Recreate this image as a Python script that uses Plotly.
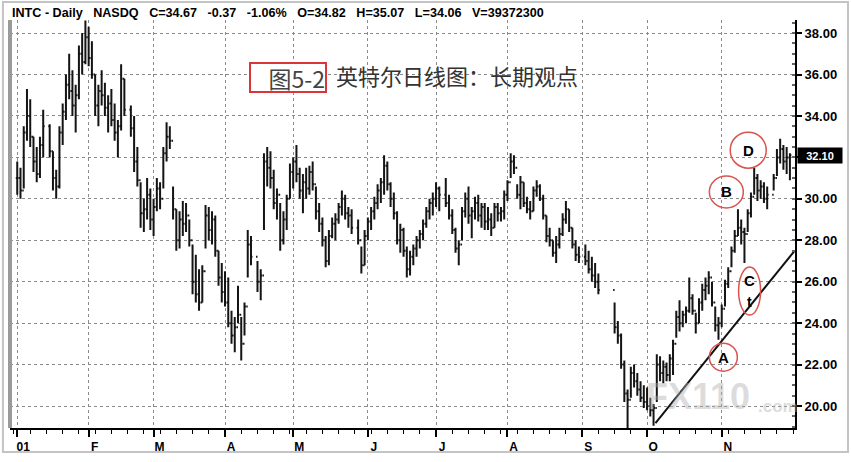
import pandas as pd
import plotly.graph_objects as go

# ---------------- data ----------------
TITLE_FIELDS = ["INTC - Daily", "NASDQ", "C=34.67", "-0.37", "-1.06%",
                "O=34.82", "H=35.07", "L=34.06", "V=39372300"]
CAPTION_TAG = "图5-2"
CAPTION_TEXT = "英特尔日线图：长期观点"

MONTH_LABELS = ["01", "F", "M", "A", "M", "J", "J", "A", "S", "O", "N"]
MONTH_TICKS = ["2001-01-02", "2001-02-01", "2001-03-01", "2001-04-02", "2001-05-01",
               "2001-06-01", "2001-07-02", "2001-08-01", "2001-09-03", "2001-10-01",
               "2001-11-01"]
PRICE_TICKS = [20, 22, 24, 26, 28, 30, 32, 34, 36, 38]

HOLIDAYS = ["2001-01-15", "2001-02-19", "2001-04-13", "2001-05-28", "2001-07-04",
            "2001-09-03", "2001-09-11", "2001-09-12", "2001-09-13", "2001-09-14",
            "2001-11-22"]

HIGH = [
    # Jan
    31.8, 31.5, 33.5, 35.3, 34.8, 33.0, 32.5, 33.0, 34.3, 33.6,
    32.3, 31.4, 33.5, 34.6, 36.0, 37.0, 36.2, 35.5, 37.4, 38.0, 38.6,
    # Feb
    38.3, 37.6, 36.0, 35.5, 36.2, 35.6, 35.0, 35.3, 34.6, 33.8, 36.5, 35.8, 34.5,
    34.0, 32.5, 30.8, 30.0, 31.0, 30.5,
    # Mar
    30.0, 31.0, 30.8, 32.5, 33.7, 33.5, 30.6, 29.5, 29.4, 29.9, 29.8, 29.0, 27.8,
    27.3, 26.6, 26.8, 29.7, 29.6, 29.4, 29.2, 27.5, 26.9,
    # Apr
    26.5, 26.2, 24.6, 24.3, 25.8, 24.3, 25.0, 28.5, 28.2,
    27.0, 26.6, 32.2, 32.5, 32.3, 31.4, 30.5, 29.8, 29.4, 30.2, 31.7,
    # May
    32.0, 32.6, 31.5, 31.2, 31.5, 31.6, 31.8, 30.6, 29.8, 29.1, 28.2, 28.5, 29.1,
    29.3, 29.8, 30.4, 30.2, 29.6, 29.5, 29.0, 27.7, 28.5,
    # Jun
    29.1, 29.6, 30.1, 30.7, 31.0, 32.1, 31.8, 30.8, 30.3, 29.4, 28.8, 28.6, 27.7,
    27.5, 27.8, 28.2, 28.5, 29.0, 29.6, 30.0, 30.3,
    # Jul
    30.8, 30.6, 31.0, 30.2, 29.5, 28.6, 28.0, 29.6, 30.3, 30.6, 29.6, 30.1, 30.2,
    29.8, 29.8, 29.6, 29.3, 29.8, 29.8, 29.6, 30.4,
    # Aug
    30.9, 32.2, 32.1, 30.7, 31.1, 30.8, 30.1, 29.9, 30.6, 30.9, 30.7, 30.2, 29.2,
    28.6, 28.0, 28.2, 28.6, 29.3, 29.9, 29.5, 28.6, 28.0, 27.7,
    # Sep
    27.8, 27.5, 27.2, 26.9, 26.4, 25.0, 24.1, 23.5, 22.2, 20.8, 21.9, 22.0, 21.6,
    21.2, 21.0,
    # Oct
    20.9, 20.4, 20.1, 22.5, 22.4, 22.2, 22.1, 22.5, 23.2, 24.6, 25.1, 24.6, 24.8,
    26.2, 25.4, 24.5, 25.2, 25.9, 26.2, 26.5, 26.0, 24.8, 24.3,
    # Nov
    24.9, 26.1, 26.7, 27.7, 28.5, 29.5, 29.0, 28.6, 29.5, 30.3, 31.5, 31.2, 30.9,
    30.8, 30.6, 31.2, 32.4, 32.9, 32.6, 32.5, 32.2,
]

LOW = [
    # Jan
    30.2, 30.0, 30.5, 32.8, 32.5, 31.3, 30.8, 31.0, 32.0, 32.0,
    30.4, 30.0, 30.5, 32.6, 33.8, 34.8, 34.0, 33.2, 34.8, 36.0, 36.5,
    # Feb
    36.4, 35.8, 34.0, 33.5, 34.5, 34.0, 33.2, 33.5, 32.8, 32.0, 33.3, 34.0, 33.0,
    31.3, 30.6, 28.6, 28.4, 29.0, 28.5,
    # Mar
    28.2, 29.4, 29.5, 30.5, 31.8, 32.4, 29.0, 27.5, 27.6, 28.2, 28.4, 27.7, 25.4,
    25.0, 24.6, 25.0, 27.6, 28.0, 27.8, 27.2, 25.8, 25.0,
    # Apr
    24.8, 23.8, 23.0, 22.6, 24.0, 22.2, 23.4, 26.2, 26.8,
    25.5, 25.1, 28.5, 30.6, 30.5, 29.5, 29.0, 27.5, 27.8, 28.5, 30.0,
    # May
    30.5, 30.8, 30.0, 29.3, 30.0, 30.2, 30.4, 29.0, 28.4, 27.7, 26.7, 26.8, 28.1,
    28.0, 28.8, 29.2, 29.0, 28.6, 28.3, 27.8, 26.4, 26.8,
    # Jun
    28.0, 28.5, 29.0, 29.5, 29.8, 30.2, 30.4, 29.6, 29.0, 27.8, 27.4, 27.2, 26.2,
    26.3, 26.8, 27.2, 27.6, 28.0, 28.6, 29.0, 29.2,
    # Jul
    29.6, 29.4, 29.6, 29.0, 28.3, 27.4, 26.8, 28.0, 29.1, 28.8, 28.1, 29.0, 28.9,
    28.6, 28.5, 28.5, 28.2, 28.6, 28.9, 28.9, 29.0,
    # Aug
    29.9, 31.0, 31.2, 30.0, 29.5, 29.6, 29.3, 29.0, 29.4, 30.1, 29.9, 29.0, 27.9,
    27.7, 27.2, 26.9, 27.6, 28.2, 28.8, 28.4, 27.6, 27.0, 26.9,
    # Sep
    26.8, 26.4, 26.0, 25.7, 25.4, 23.5, 23.0, 21.8, 20.2, 18.9, 20.4, 20.9, 20.5,
    20.2, 19.9,
    # Oct
    19.8, 19.5, 19.05, 20.2, 21.2, 21.1, 21.2, 21.2, 21.5, 23.3, 23.6, 23.8, 24.0,
    24.5, 24.4, 23.5, 24.0, 24.6, 25.1, 25.4, 24.8, 23.6, 23.2,
    # Nov
    23.8, 24.8, 25.7, 26.7, 27.4, 28.2, 27.8, 26.9, 28.4, 29.1, 30.2, 29.9, 30.0,
    29.8, 29.5, 30.4, 31.1, 31.7, 31.4, 31.2, 30.9,
]

CLOSE = [
    # Jan
    31.0, 30.4, 33.2, 34.0, 33.0, 31.8, 31.2, 32.6, 33.5, 32.3,
    31.0, 30.6, 33.2, 34.2, 35.5, 35.2, 34.5, 35.0, 37.0, 36.6, 37.8,
    # Feb
    36.8, 36.0, 34.5, 35.2, 35.0, 34.4, 34.6, 33.8, 33.2, 33.5, 35.8, 34.3, 33.4,
    31.8, 30.9, 29.3, 29.5, 30.2, 29.0,
    # Mar
    29.6, 30.5, 30.0, 32.2, 33.0, 32.8, 29.5, 28.0, 29.0, 28.8, 29.2, 28.0, 26.0,
    25.4, 25.0, 26.5, 29.2, 28.5, 29.0, 27.5, 26.2, 25.5,
    # Apr
    25.0, 24.0, 23.4, 23.8, 24.4, 23.0, 24.8, 27.8, 27.2,
    26.0, 26.3, 31.8, 31.5, 31.0, 29.8, 30.2, 28.0, 29.0, 30.0, 31.3,
    # May
    31.8, 31.2, 30.4, 30.8, 30.5, 31.3, 30.7, 29.4, 28.8, 28.0, 27.0, 28.2, 28.8,
    29.0, 29.6, 30.0, 29.3, 29.2, 28.6, 28.0, 26.8, 28.2,
    # Jun
    28.9, 29.4, 29.8, 30.4, 30.8, 31.6, 30.7, 30.0, 29.3, 28.0, 28.5, 27.5, 26.6,
    27.2, 27.6, 28.0, 28.3, 28.8, 29.4, 29.8, 30.0,
    # Jul
    30.5, 30.2, 29.8, 29.2, 28.5, 27.6, 27.8, 29.4, 30.0, 29.2, 29.4, 29.8, 29.2,
    29.6, 28.9, 29.0, 28.6, 29.6, 29.3, 29.4, 30.2,
    # Aug
    30.8, 31.8, 31.5, 30.2, 30.8, 29.8, 29.5, 29.4, 30.4, 30.6, 30.0, 29.2, 28.2,
    28.0, 27.4, 27.8, 28.3, 29.0, 29.5, 28.6, 27.8, 27.3, 27.2,
    # Sep
    27.0, 26.6, 26.3, 26.0, 25.6, 23.8, 23.4, 22.0, 20.6, 20.3, 21.6, 21.2, 20.8,
    20.4, 20.2,
    # Oct
    20.0, 19.8, 19.9, 22.0, 21.6, 21.9, 21.5, 22.3, 23.0, 24.3, 24.0, 24.4, 24.6,
    25.2, 24.6, 24.0, 25.0, 25.6, 25.8, 26.2, 25.0, 23.9, 24.0,
    # Nov
    24.7, 25.9, 26.5, 27.5, 28.2, 28.6, 28.4, 28.3, 29.3, 30.1, 31.0, 30.4, 30.6,
    30.0, 30.2, 31.0, 32.0, 32.4, 31.8, 32.0, 32.1,
]

# annotated pivots (circled letters) and the up trendline
MARK_LABELS = ["A", "B", "C", "D"]
MARK_DATES = ["2001-11-01 12:00", "2001-11-02 10:00", "2001-11-13 14:00", "2001-11-13 04:00"]
MARK_PRICES = [22.36, 30.33, 25.55, 32.35]
TREND_DATES = ["2001-10-03 14:00", "2001-12-03 12:00"]
TREND_PRICES = [19.18, 27.5]

# ---------------- build ----------------
dates = [d for d in pd.bdate_range("2001-01-02", "2001-11-30")
         if d.strftime("%Y-%m-%d") not in HOLIDAYS]
n = min(len(dates), len(HIGH), len(LOW), len(CLOSE))
dates = dates[:n]
OPEN = [CLOSE[0]] + CLOSE[:n - 1]
LAST = CLOSE[n - 1]

fig = go.Figure()
fig.add_trace(go.Ohlc(
    x=dates, open=OPEN, high=HIGH[:n], low=LOW[:n], close=CLOSE[:n],
    increasing=dict(line=dict(color="#141414", width=2)),
    decreasing=dict(line=dict(color="#141414", width=2)),
    tickwidth=0.45, showlegend=False, hoverinfo="skip",
))
fig.add_trace(go.Scatter(
    x=TREND_DATES, y=TREND_PRICES, mode="lines",
    line=dict(color="#111", width=2), showlegend=False, hoverinfo="skip",
))

grid = "#8a8a8a"
# the price box covers the label of the tick it sits on
price_text = ["" if abs(v - LAST) < 0.6 else f"{v:.2f}" for v in PRICE_TICKS]

fig.update_layout(
    width=851, height=462,
    margin=dict(l=10, r=56, t=20, b=34),
    plot_bgcolor="white", paper_bgcolor="white",
    showlegend=False,
    xaxis=dict(
        type="date",
        range=["2000-12-28 18:30", "2001-12-03 13:40"],
        rangebreaks=[dict(bounds=["sat", "mon"])],
        rangeslider=dict(visible=False),
        tickmode="array", tickvals=MONTH_TICKS, ticktext=MONTH_LABELS,
        ticks="outside", ticklen=7, tickwidth=1.5, tickcolor="black",
        ticklabelshift=6,
        tickfont=dict(family="Liberation Sans", size=12, color="black", weight="bold"),
        showgrid=True, gridcolor=grid, griddash="dot", gridwidth=1,
        showline=True, linecolor="black", linewidth=2,
        minor=dict(ticks="outside", ticklen=4, tickcolor="black", tickwidth=1,
                   dtick=7 * 86400000, tick0="2001-01-01", showgrid=False),
        zeroline=False, fixedrange=True, automargin=False,
    ),
    yaxis=dict(
        side="right",
        range=[18.94, 38.63],
        tickmode="array", tickvals=PRICE_TICKS, ticktext=price_text,
        ticks="outside", ticklen=5, tickwidth=1.5, tickcolor="black",
        tickfont=dict(family="Liberation Sans", size=13, color="black", weight="bold"),
        showgrid=True, gridcolor=grid, griddash="dot", gridwidth=1,
        showline=True, linecolor="black", linewidth=2,
        minor=dict(ticks="inside", ticklen=3, tickcolor="#666", dtick=0.5, showgrid=False),
        zeroline=False, fixedrange=True, automargin=False,
    ),
)

shapes = []
# left frame bar and outer border
shapes.append(dict(type="line", xref="paper", yref="paper", x0=0, x1=0, y0=0, y1=1,
                   line=dict(color="#9a9a9a", width=4)))
shapes.append(dict(type="rect", xref="paper", yref="paper",
                   x0=-0.009, x1=1.0675, y0=-0.0588, y1=1.044,
                   line=dict(color="#c4c4c4", width=2), layer="above"))
# red ellipses around pivots
RADII = {"A": (14, 14), "B": (17, 16), "C": (11, 24), "D": (18, 18)}
for lab, d, p in zip(MARK_LABELS, MARK_DATES, MARK_PRICES):
    rx, ry = RADII[lab]
    shapes.append(dict(type="circle", xref="x", yref="y", xsizemode="pixel",
                       ysizemode="pixel", xanchor=d, yanchor=p,
                       x0=-rx, x1=rx, y0=-ry, y1=ry,
                       line=dict(color="#d9534f", width=1.5)))
fig.update_layout(shapes=shapes)

ann = []
sp = "\u00a0\u00a0\u00a0"
ann.append(dict(xref="paper", yref="paper", x=0, y=1.017, xanchor="left", yanchor="middle",
                text=sp.join(TITLE_FIELDS), showarrow=False,
                font=dict(family="Liberation Sans", size=12.6, color="black", weight="bold")))
ann.append(dict(xref="paper", yref="paper", x=0.354, y=0.859, xanchor="center", yanchor="middle",
                text=CAPTION_TAG, showarrow=False, width=74, height=27, align="right",
                bordercolor="#d8363a", borderwidth=2, borderpad=0, bgcolor="white",
                font=dict(family="Noto Sans CJK SC", size=23, color="#444")))
ann.append(dict(xref="paper", yref="paper", x=0.413, y=0.865, xanchor="left", yanchor="middle",
                text=CAPTION_TEXT, showarrow=False,
                font=dict(family="Noto Sans CJK SC", size=22, color="#333")))
for lab, d, p in zip(MARK_LABELS, MARK_DATES, MARK_PRICES):
    if lab == "C":
        ann.append(dict(x=d, y=p, xref="x", yref="y", text="C", showarrow=False, yshift=11,
                        font=dict(family="Liberation Sans", size=15, color="black", weight="bold")))
        ann.append(dict(x=d, y=p, xref="x", yref="y", text="t", showarrow=False, yshift=-11,
                        font=dict(family="Liberation Sans", size=14, color="black", weight="bold")))
    else:
        ann.append(dict(x=d, y=p, xref="x", yref="y", text=lab, showarrow=False,
                        font=dict(family="Liberation Sans", size=15, color="black", weight="bold")))
# last price box on the price axis
ann.append(dict(xref="paper", yref="y", x=1, y=LAST, xanchor="left", yanchor="middle",
                xshift=2, text=f"{LAST:.2f}", showarrow=False, width=42, height=13,
                bgcolor="black", borderpad=1,
                font=dict(family="Liberation Sans", size=11, color="white", weight="bold")))
# watermark
ann.append(dict(xref="paper", yref="paper", x=0.877, y=0.076, xanchor="center", yanchor="middle",
                text="FX110", showarrow=False,
                font=dict(family="Liberation Sans", size=36, color="rgba(175,175,175,0.45)", weight="bold")))
ann.append(dict(xref="paper", yref="paper", x=0.978, y=0.052, xanchor="center", yanchor="middle",
                text=".com", showarrow=False,
                font=dict(family="Liberation Sans", size=17, color="rgba(175,175,175,0.45)", weight="bold")))
fig.update_layout(annotations=ann)

fig.write_html("out.html", config={"displayModeBar": False},
               post_script="document.body.style.margin='0px';")
